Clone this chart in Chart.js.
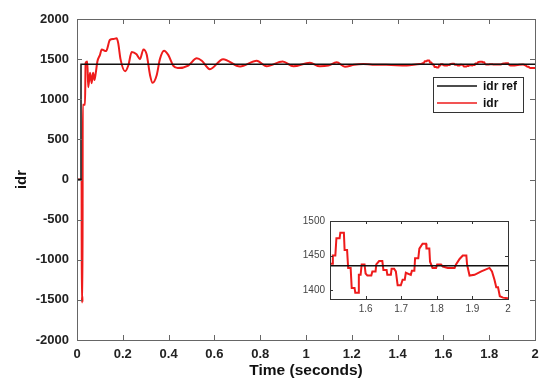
<!DOCTYPE html>
<html><head><meta charset="utf-8">
<script src="https://cdn.jsdelivr.net/npm/chart.js@4.4.0/dist/chart.umd.min.js"></script>
<style>
html,body{margin:0;padding:0;background:#fff;}
#wrap{position:relative;width:550px;height:384px;}
canvas{position:absolute;left:0;top:0;}
</style>
</head><body>
<div id="wrap"><canvas id="main" width="550" height="384"></canvas><canvas id="inset" width="550" height="384"></canvas></div>
<script>
// ---- data ----
const seriesLabels = ['idr ref', 'idr'];
const timeRef = [0, 0.0175, 0.0175, 2];
const idrRef  = [0, 0, 1435, 1435];
const timeIdr = [0, 0.02, 0.021, 0.023, 0.024, 0.025, 0.035, 0.0375, 0.045, 0.049, 0.057, 0.064, 0.070, 0.076, 0.082, 0.089, 0.1, 0.108, 0.127, 0.144, 0.16, 0.173, 0.18, 0.19, 0.21, 0.224, 0.239, 0.26, 0.275, 0.29, 0.304, 0.319, 0.33, 0.348, 0.362, 0.38, 0.399, 0.42, 0.44, 0.486, 0.523, 0.545, 0.58, 0.638, 0.712, 0.785, 0.828, 0.898, 0.945, 1.017, 1.06, 1.097, 1.134, 1.17, 1.21, 1.25, 1.29, 1.35, 1.44,
  1.499, 1.506, 1.508, 1.515, 1.518, 1.527, 1.529, 1.539, 1.541, 1.548, 1.551, 1.558, 1.561, 1.569, 1.571, 1.579, 1.581, 1.586, 1.589, 1.597, 1.600, 1.605, 1.616, 1.619, 1.628, 1.630, 1.638, 1.647, 1.650, 1.659, 1.661, 1.671, 1.673, 1.680, 1.685, 1.690, 1.699, 1.704, 1.710, 1.713, 1.727, 1.730, 1.737, 1.739, 1.748, 1.751, 1.760, 1.770, 1.771, 1.779, 1.781, 1.788, 1.798, 1.801, 1.812, 1.817, 1.831, 1.850, 1.854, 1.864, 1.873, 1.883, 1.885, 1.892, 1.906, 1.925, 1.948, 1.955, 1.962, 1.967, 1.972, 1.977, 1.986, 2.0];
const idr = [0, 0, -1530, -1450, -1530, 930, 930, 1450, 1470, 1150, 1330, 1200, 1330, 1240, 1330, 1470, 1550, 1620, 1600, 1740, 1750, 1760, 1700, 1500, 1350, 1420, 1590, 1560, 1500, 1620, 1560, 1300, 1205, 1300, 1500, 1605, 1550, 1420, 1388, 1420, 1510, 1480, 1375, 1500, 1408, 1480, 1410, 1470, 1410, 1455, 1410, 1420, 1460, 1405, 1430, 1440, 1430, 1430, 1420,
  1438, 1438, 1450, 1450, 1475, 1475, 1483, 1483, 1458, 1458, 1432, 1432, 1403, 1403, 1396, 1396, 1422, 1422, 1437, 1437, 1424, 1421, 1421, 1427, 1427, 1437, 1442, 1442, 1429, 1429, 1422, 1422, 1431, 1431, 1427, 1407, 1407, 1415, 1415, 1425, 1422, 1428, 1428, 1446, 1446, 1460, 1467, 1467, 1460, 1460, 1441, 1432, 1432, 1437, 1437, 1434, 1432, 1432, 1437, 1445, 1450, 1450, 1437, 1421, 1422, 1427, 1432, 1427, 1415, 1404, 1404, 1391, 1389, 1388];
const xTicksMain  = [0, 0.2, 0.4, 0.6, 0.8, 1, 1.2, 1.4, 1.6, 1.8, 2];
const yTicksMain  = [-2000, -1500, -1000, -500, 0, 500, 1000, 1500, 2000];
const xTicksInset = [1.6, 1.7, 1.8, 1.9, 2];
const yTicksInset = [1400, 1450, 1500];

const FONT = "'Liberation Sans', Arial, sans-serif";
const RED = '#ee1b1b', BLACK = '#111111';
const toXY = (xs, ys) => xs.map((x, i) => ({x: x, y: ys[i]}));
const fmt = v => String(+v.toFixed(2));
const setTicks = arr => s => { s.ticks = arr.map(v => ({value: v})); };

function boxTicks(id, color, len) {
  return {
    id: id,
    afterDraw(chart) {
      const {ctx, chartArea: a, scales} = chart;
      ctx.save();
      ctx.strokeStyle = color; ctx.lineWidth = 1;
      ctx.beginPath();
      scales.x.ticks.forEach(t => {
        const px = Math.round(scales.x.getPixelForValue(t.value)) + 0.5;
        ctx.moveTo(px, a.bottom); ctx.lineTo(px, a.bottom - len);
        ctx.moveTo(px, a.top); ctx.lineTo(px, a.top + len);
      });
      scales.y.ticks.forEach(t => {
        const py = Math.round(scales.y.getPixelForValue(t.value)) + 0.5;
        ctx.moveTo(a.left, py); ctx.lineTo(a.left + len, py);
        ctx.moveTo(a.right, py); ctx.lineTo(a.right - len, py);
      });
      ctx.stroke();
      ctx.strokeRect(Math.round(a.left) + 0.5, Math.round(a.top) + 0.5, Math.round(a.right - a.left), Math.round(a.bottom - a.top));
      ctx.restore();
    }
  };
}

const legendPlugin = {
  id: 'boxLegend',
  afterDraw(chart) {
    const {ctx, chartArea: a} = chart;
    const w = 90, h = 35;
    const x0 = a.right - 12 - w, y0 = a.top + 58;
    ctx.save();
    ctx.fillStyle = '#fff';
    ctx.fillRect(x0, y0, w, h);
    ctx.strokeStyle = '#333'; ctx.lineWidth = 1;
    ctx.strokeRect(x0 + 0.5, y0 + 0.5, w, h);
    const items = [...chart.data.datasets].sort((p, q) => p.legendIndex - q.legendIndex);
    ctx.font = 'bold 12px ' + FONT;
    ctx.textBaseline = 'middle';
    items.forEach((ds, i) => {
      const yy = y0 + 9 + i * 17;
      ctx.strokeStyle = ds.borderColor; ctx.lineWidth = ds.legendLineWidth;
      ctx.beginPath(); ctx.moveTo(x0 + 4, yy); ctx.lineTo(x0 + 44, yy); ctx.stroke();
      ctx.fillStyle = '#111';
      ctx.fillText(ds.label, x0 + 50, yy + 1);
    });
    ctx.restore();
  }
};

const refData = toXY(timeRef, idrRef);
const idrData = toXY(timeIdr, idr);

new Chart(document.getElementById('main'), {
  type: 'line',
  data: {
    datasets: [
      {label: seriesLabels[0], data: refData, borderColor: BLACK, borderWidth: 1.5, pointRadius: 0, tension: 0, order: 0, legendIndex: 0, legendLineWidth: 1.5},
      {label: seriesLabels[1], data: idrData, borderColor: RED, borderWidth: 2, pointRadius: 0, cubicInterpolationMode: 'monotone', order: 1, legendIndex: 1, legendLineWidth: 1.5}
    ]
  },
  options: {
    responsive: false, animation: false, devicePixelRatio: 1,
    layout: {padding: {top: 19, right: 15, left: 0, bottom: 0}},
    plugins: {legend: {display: false}, tooltip: {enabled: false}},
    scales: {
      x: {
        type: 'linear', min: 0, max: 2,
        afterBuildTicks: setTicks(xTicksMain),
        afterFit: s => { s.height = 44; },
        grid: {display: false, drawTicks: false}, border: {display: false},
        ticks: {callback: v => fmt(v), font: {family: FONT, size: 13, weight: 'bold'}, color: '#222', padding: 7, maxRotation: 0, autoSkip: false},
        title: {display: true, text: 'Time (seconds)', font: {family: FONT, size: 15.5, weight: 'bold'}, color: '#111', padding: {top: 0, bottom: 4}}
      },
      y: {
        type: 'linear', min: -2000, max: 2000,
        afterBuildTicks: setTicks(yTicksMain),
        afterFit: s => { s.width = 77; },
        grid: {display: false, drawTicks: false}, border: {display: false},
        ticks: {callback: v => fmt(v), font: {family: FONT, size: 13, weight: 'bold'}, color: '#222', padding: 8, autoSkip: false},
        title: {display: true, text: 'idr', font: {family: FONT, size: 15, weight: 'bold'}, color: '#111', padding: {top: 13, bottom: 0}}
      }
    }
  },
  plugins: [boxTicks('mainBox', '#666', 5), legendPlugin]
});

const insetBg = {
  id: 'insetBg',
  beforeDraw(chart) {
    const {ctx, chartArea: a} = chart;
    ctx.save(); ctx.fillStyle = '#fff';
    ctx.fillRect(a.left, a.top, a.right - a.left, a.bottom - a.top);
    ctx.restore();
  }
};

new Chart(document.getElementById('inset'), {
  type: 'line',
  data: {
    datasets: [
      {label: seriesLabels[0], data: refData, borderColor: BLACK, borderWidth: 1.5, pointRadius: 0, tension: 0, order: 0},
      {label: seriesLabels[1], data: idrData, borderColor: RED, borderWidth: 2, pointRadius: 0, tension: 0, order: 1}
    ]
  },
  options: {
    responsive: false, animation: false, devicePixelRatio: 1,
    layout: {padding: {top: 221, right: 42, left: 0, bottom: 0}},
    plugins: {legend: {display: false}, tooltip: {enabled: false}},
    scales: {
      x: {
        type: 'linear', min: 1.5, max: 2,
        afterBuildTicks: setTicks(xTicksInset),
        afterFit: s => { s.height = 85; },
        grid: {display: false, drawTicks: false}, border: {display: false},
        ticks: {callback: v => fmt(v), font: {family: FONT, size: 10}, color: '#444', padding: 4, maxRotation: 0, autoSkip: false}
      },
      y: {
        type: 'linear', min: 1387, max: 1500,
        afterBuildTicks: setTicks(yTicksInset),
        afterFit: s => { s.width = 330; },
        grid: {display: false, drawTicks: false}, border: {display: false},
        ticks: {callback: v => fmt(v), font: {family: FONT, size: 10}, color: '#444', padding: 5, autoSkip: false}
      }
    }
  },
  plugins: [insetBg, boxTicks('insetBox', '#333', 3)]
});
</script>
</body></html>
